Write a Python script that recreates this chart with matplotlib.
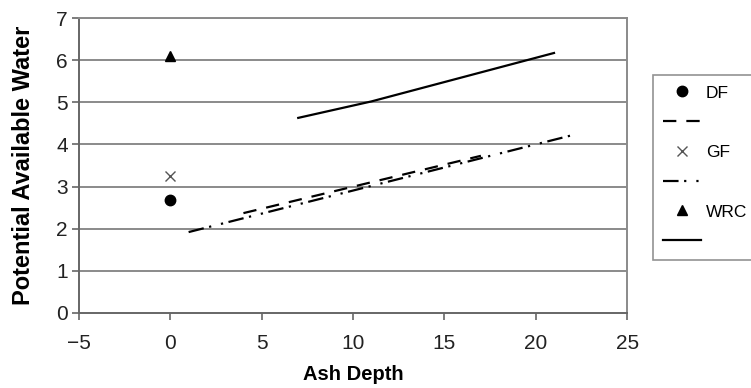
import matplotlib
matplotlib.use("Agg")
import matplotlib.pyplot as plt

plt.rcParams['font.family'] = ['Liberation Sans', 'DejaVu Sans']

# Point data (Ash Depth = 0)
point_x = [0]
df_point = [2.68]
gf_point = [3.25]
wrc_point = [6.1]

# Trend lines
df_line_x = [4, 17]
df_line_y = [2.37, 3.73]
gf_line_x = [1, 22]
gf_line_y = [1.92, 4.22]
wrc_line_x = [7, 11, 21]
wrc_line_y = [4.63, 5.02, 6.17]

xticks = [-5, 0, 5, 10, 15, 20, 25]
yticks = [0, 1, 2, 3, 4, 5, 6, 7]

fig = plt.figure(figsize=(7.51, 3.88), dpi=100)
ax = fig.add_axes([0.1052, 0.1933, 0.835 - 0.1052, 0.9536 - 0.1933])

grid_c = '#8a8a8a'
for y in yticks[1:]:
    ax.axhline(y, color=grid_c, lw=1.4, zorder=1)

h_df, = ax.plot(point_x, df_point, 'o', color='black', ms=7.5, ls='none', zorder=3)
h_dfl, = ax.plot(df_line_x, df_line_y, color='black', lw=1.6, ls=(0, (6, 4.5)), zorder=3)
h_gf, = ax.plot(point_x, gf_point, 'x', color='#555555', ms=7.5, mew=1.0, ls='none', zorder=3)
h_gfl, = ax.plot(gf_line_x, gf_line_y, color='black', lw=1.6,
                 ls=(0, (7, 2.5, 1, 4.5, 1, 2.5)), zorder=3)
h_wrc, = ax.plot(point_x, wrc_point, '^', color='black', ms=7, ls='none', zorder=3)
h_wrcl, = ax.plot(wrc_line_x, wrc_line_y, color='black', lw=1.6, ls='-', zorder=3)

ax.set_xlim(-5, 25)
ax.set_ylim(0, 7)
ax.set_xticks(xticks)
ax.set_yticks(yticks)
ax.set_xticklabels(['\u22125' if t == -5 else str(t) for t in xticks])
ax.tick_params(axis='both', direction='out', length=5, width=1.2, color='#666666',
               labelsize=15, labelcolor='#222222', pad=3)
ax.tick_params(axis='x', pad=10)

for s in ['left', 'bottom']:
    ax.spines[s].set_color('#666666')
    ax.spines[s].set_linewidth(1.4)
for s in ['top', 'right']:
    ax.spines[s].set_color(grid_c)
    ax.spines[s].set_linewidth(1.4)

ax.set_xlabel('Ash Depth', fontsize=14.5, fontweight='bold', labelpad=9)
ax.set_ylabel('Potential Available Water', fontsize=17, fontweight='bold', labelpad=15)

leg = fig.legend([h_df, h_dfl, h_gf, h_gfl, h_wrc, h_wrcl],
                 ['DF', '', 'GF', '', 'WRC', ''],
                 loc='upper left', bbox_to_anchor=(0.8695, 0.8067),
                 fontsize=12.5, frameon=True, fancybox=False,
                 handlelength=2.15, handletextpad=0.3, labelspacing=0.84,
                 borderpad=0.6, borderaxespad=0)
leg.get_frame().set_edgecolor('#777777')
leg.get_frame().set_linewidth(1.2)

fig.savefig('out.png', dpi=100)
